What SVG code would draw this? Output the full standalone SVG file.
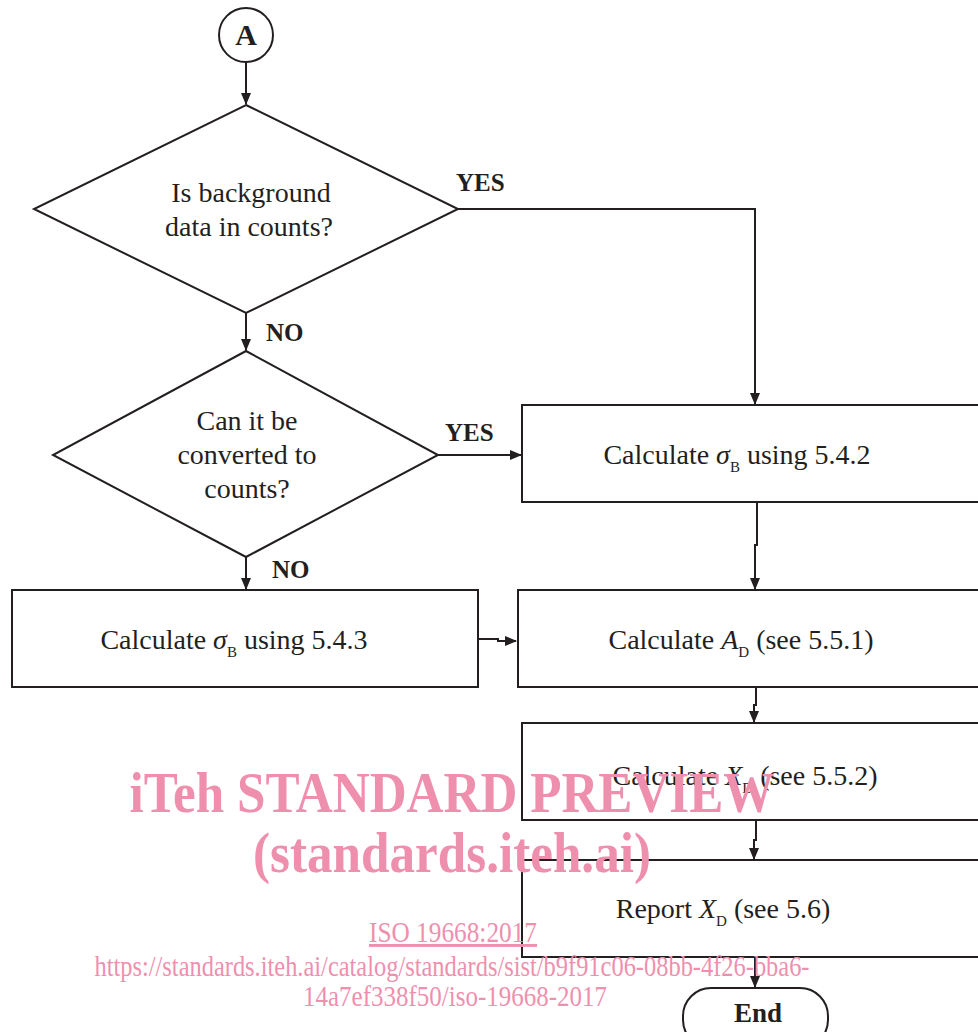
<svg xmlns="http://www.w3.org/2000/svg" width="978" height="1032" viewBox="0 0 978 1032">
<style>
.s{fill:#fff;stroke:#231f20;stroke-width:2}
.l{fill:none;stroke:#231f20;stroke-width:2}
.t{font-family:"Liberation Serif",serif;font-size:28px;fill:#231f20;text-anchor:middle}
.b{font-family:"Liberation Serif",serif;font-size:25px;font-weight:bold;fill:#231f20}
.sub{font-size:15px}
.w{font-family:"Liberation Serif",serif;fill:#ef8fae;text-anchor:middle}
</style>
<defs>
<marker id="ah" markerWidth="12" markerHeight="12" refX="11" refY="6" orient="auto" markerUnits="userSpaceOnUse">
<path d="M0,1 L12,6 L0,11 Z" fill="#231f20"/>
</marker>
</defs>
<g id="connectors">
<path class="l" d="M246,62 V104" marker-end="url(#ah)"/>
<path class="l" d="M458,209 H755 V404" marker-end="url(#ah)"/>
<path class="l" d="M246,313 V350" marker-end="url(#ah)"/>
<path class="l" d="M438,455 H521" marker-end="url(#ah)"/>
<path class="l" d="M246,557 V589" marker-end="url(#ah)"/>
<path class="l" d="M478,639 H498 V641 H516" marker-end="url(#ah)"/>
<path class="l" d="M757,502 V545 H755 V589" marker-end="url(#ah)"/>
<path class="l" d="M756,687 V705 H754 V722" marker-end="url(#ah)"/>
<path class="l" d="M756,820 V840 H754 V859" marker-end="url(#ah)"/>
<path class="l" d="M755,957 V987" marker-end="url(#ah)"/>
<text class="b" x="456" y="191">YES</text>
<text class="b" x="266" y="341">NO</text>
<text class="b" x="445" y="441">YES</text>
<text class="b" x="272" y="578">NO</text>
</g>
<g id="startA">
<circle class="s" cx="246" cy="35" r="27"/>
<text class="b" x="246" y="45" text-anchor="middle" style="font-size:30px">A</text>
</g>
<g id="decision1">
<polygon class="s" points="246,105 458,209 246,313 34,209"/>
<text class="t" x="251" y="202">Is background</text>
<text class="t" x="249" y="236">data in counts?</text>
</g>
<g id="decision2">
<polygon class="s" points="246,351 438,455 246,557 53,455"/>
<text class="t" x="247" y="430">Can it be</text>
<text class="t" x="247" y="464">converted to</text>
<text class="t" x="247" y="498">counts?</text>
</g>
<g id="box542">
<rect class="s" x="522" y="405" width="470" height="97"/>
<text class="t" x="737" y="464">Calculate <tspan font-style="italic">σ</tspan><tspan class="sub" dy="8">B</tspan><tspan dy="-8"> using 5.4.2</tspan></text>
</g>
<g id="box543">
<rect class="s" x="12" y="590" width="466" height="97"/>
<text class="t" x="234" y="649">Calculate <tspan font-style="italic">σ</tspan><tspan class="sub" dy="8">B</tspan><tspan dy="-8"> using 5.4.3</tspan></text>
</g>
<g id="boxAD">
<rect class="s" x="518" y="590" width="474" height="97"/>
<text class="t" x="741" y="649">Calculate <tspan font-style="italic">A</tspan><tspan class="sub" dy="8">D</tspan><tspan dy="-8"> (see 5.5.1)</tspan></text>
</g>
<g id="boxXD">
<rect class="s" x="522" y="723" width="470" height="97"/>
<text class="t" x="745" y="785">Calculate <tspan font-style="italic">X</tspan><tspan class="sub" dy="8">D</tspan><tspan dy="-8"> (see 5.5.2)</tspan></text>
</g>
<g id="boxReport">
<rect class="s" x="522" y="860" width="470" height="97"/>
<text class="t" x="723" y="918">Report <tspan font-style="italic">X</tspan><tspan class="sub" dy="8">D</tspan><tspan dy="-8"> (see 5.6)</tspan></text>
</g>
<g id="end">
<rect class="s" x="683" y="988" width="145" height="60" rx="28"/>
<text class="b" x="758" y="1022" text-anchor="middle" style="font-size:27px">End</text>
</g>
<g id="watermark">
<text class="w" x="452" y="812" font-size="58" font-weight="bold" textLength="645" lengthAdjust="spacingAndGlyphs">iTeh STANDARD PREVIEW</text>
<text class="w" x="452" y="872" font-size="58" font-weight="bold" textLength="398" lengthAdjust="spacingAndGlyphs">(standards.iteh.ai)</text>
<text class="w" x="453" y="942" font-size="29" text-decoration="underline" textLength="168" lengthAdjust="spacingAndGlyphs">ISO 19668:2017</text>
<text class="w" x="452" y="976" font-size="29" textLength="715" lengthAdjust="spacingAndGlyphs">https://standards.iteh.ai/catalog/standards/sist/b9f91c06-08bb-4f26-bba6-</text>
<text class="w" x="455" y="1006" font-size="29" textLength="304" lengthAdjust="spacingAndGlyphs">14a7ef338f50/iso-19668-2017</text>
</g>
</svg>
